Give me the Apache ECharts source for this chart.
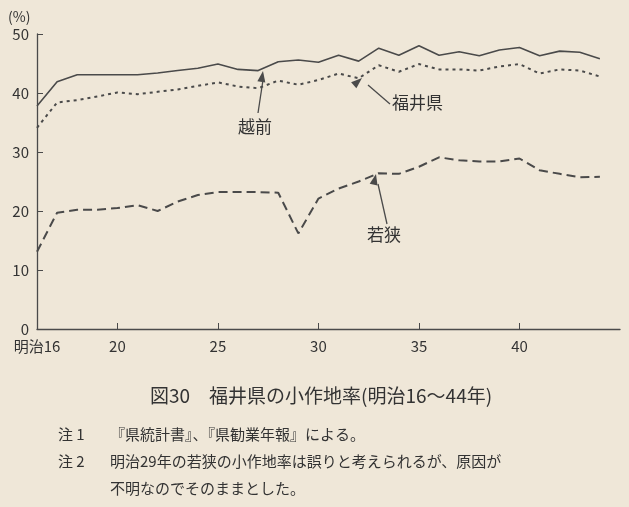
<!DOCTYPE html><html><head><meta charset="utf-8"><script src="https://cdn.jsdelivr.net/npm/echarts@6/dist/echarts.min.js"></script>
<style>html,body{margin:0;background:#efe7d8}#c{width:629px;height:507px}</style></head><body><div id="c"></div><script>
const years=[16,17,18,19,20,21,22,23,24,25,26,27,28,29,30,31,32,33,34,35,36,37,38,39,40,41,42,43,44,45];
const echizen=[37.8,41.9,43.1,43.1,43.1,43.1,43.4,43.8,44.2,44.9,44.0,43.8,45.3,45.6,45.2,46.4,45.4,47.6,46.4,48.0,46.4,47.0,46.3,47.3,47.7,46.3,47.1,46.9,45.8];
const fukui=[34.1,38.4,38.8,39.4,40.1,39.8,40.2,40.6,41.2,41.8,41.1,40.8,42.1,41.4,42.2,43.3,42.5,44.7,43.6,44.9,44.0,44.0,43.8,44.5,44.9,43.3,44.0,43.8,42.8];
const wakasa=[13.1,19.7,20.2,20.2,20.5,21.0,20.0,21.6,22.7,23.2,23.2,23.2,23.1,16.2,22.1,23.8,25.0,26.4,26.3,27.5,29.1,28.6,28.4,28.4,28.9,26.9,26.3,25.7,25.8];
const yTicks=[0,10,20,30,40,50];
const xLabeled=[16,20,25,30,35,40];
const C='#4a4a4a',F='"Noto Sans CJK JP","Noto Serif CJK JP",serif';
const ch=echarts.init(document.getElementById('c'));
const ln=(d,t,w)=>({type:'line',data:d,symbol:'none',lineStyle:{color:C,width:w,type:t},animation:false});
const arrow=(x1,y1,x2,y2)=>({type:'line',shape:{x1,y1,x2,y2},style:{stroke:C,lineWidth:1.3}});
const head=(x,y,ang)=>({type:'polygon',x,y,rotation:ang,shape:{points:[[0,0],[-4,11],[4,11]]},style:{fill:C}});
const txt=(x,y,t,s,extra)=>Object.assign({type:'text',x,y,style:{text:t,font:s+'px '+F,fill:'#333'}},extra||{});
ch.setOption({
 backgroundColor:'#efe7d8',
 grid:{left:37,right:9,top:34,bottom:178},
 xAxis:{type:'category',data:years,boundaryGap:false,
  axisLine:{lineStyle:{color:C,width:1.3}},
  axisTick:{inside:true,length:6,lineStyle:{color:C},interval:(i,v)=>xLabeled.includes(+v)&&+v!==16},
  axisLabel:{interval:(i,v)=>xLabeled.includes(+v),formatter:v=>+v===16?'明治16':v,color:'#333',fontSize:15,fontFamily:F,margin:10}},
 yAxis:{type:'value',min:0,max:50,interval:10,
  axisLine:{show:true,lineStyle:{color:C,width:1.3}},
  axisTick:{show:true,inside:true,length:6,lineStyle:{color:C}},
  splitLine:{show:false},
  axisLabel:{color:'#333',fontSize:15,fontFamily:F,margin:8,formatter:v=>yTicks.includes(v)?v:''}},
 series:[ln(echizen,'solid',1.6),ln(fukui,[3,4],2),ln(wakasa,[9,5],2)],
 graphic:[
  txt(8,10,'(%)',14),
  txt(238,118,'越前',17),arrow(258,113,263,80),head(263,71,-0.15),
  txt(392,94,'福井県',17),arrow(390,104,368,85),head(362,78,-0.85),
  txt(367,226,'若狭',17),arrow(387,224,378,184),head(376,174,-0.22),
  txt(150,386,'図30　福井県の小作地率(明治16〜44年)',19),
  txt(58,427,'注 1',15),txt(110,427,'『県統計書』、『県勧業年報』による。',15),
  txt(58,454,'注 2',15),txt(110,454,'明治29年の若狭の小作地率は誤りと考えられるが、原因が',15),
  txt(110,481,'不明なのでそのままとした。',15)
 ]
});
</script></body></html>
